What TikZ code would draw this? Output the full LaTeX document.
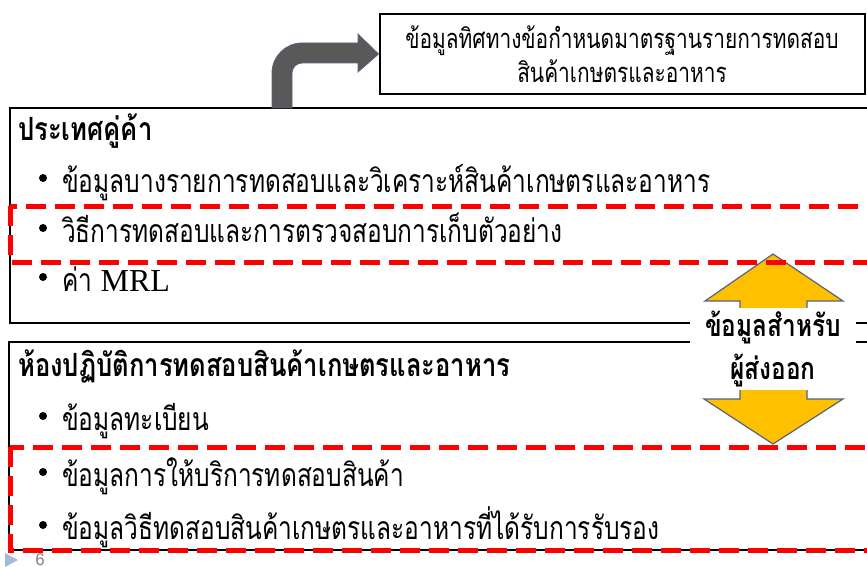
\documentclass[tikz,border=0pt]{standalone}
\usepackage{fontspec}
\newfontfamily\thaifont[Script=Thai,FakeStretch=0.765]{Loma}
\newfontfamily\thaihead[Script=Thai,FakeStretch=0.8]{Loma}
\newfontfamily\romanfont{Liberation Serif}
\setsansfont{Liberation Sans}
\usetikzlibrary{positioning}

\definecolor{arrowgray}{HTML}{595959}
\definecolor{edgeblue}{HTML}{56627E}
\definecolor{exportgold}{HTML}{FFC000}
\definecolor{markblue}{HTML}{A5BBD3}

\tikzset{
  panel/.style={draw=black,line width=2pt},
  redzone/.style={draw=red,line width=5pt,dash pattern=on 20pt off 9pt},
  bodytext/.style={anchor=base west,inner sep=0pt,font=\thaifont\fontsize{32}{34}\selectfont},
  headtext/.style={anchor=base west,inner sep=0pt,font=\thaihead\bfseries\fontsize{32}{34}\selectfont},
  bulletdot/.style={circle,fill=black,inner sep=0pt,minimum size=8pt},
}

\begin{document}
\begin{tikzpicture}[x=1pt,y=-1pt]
  \useasboundingbox (0,0) rectangle (867,567);
  \clip (0,0) rectangle (867,567);

  % the two panels
  \draw[panel] (10,108) rectangle (900,323);
  \draw[panel] (9,342) rectangle (900,550);

  % top box
  \node[draw,line width=2pt,minimum width=485pt,minimum height=80pt,inner sep=0pt,
        align=center,font=\thaifont\fontsize{27.3}{34}\selectfont] (guide) at (622,54)
        {ข้อมูลทิศทางข้อกำหนดมาตรฐานรายการทดสอบ\\สินค้าเกษตรและอาหาร};

  % bent arrow from partner panel up to the top box
  \coordinate (arrowfoot) at (282,108);
  \fill[arrowgray,draw=edgeblue,line width=0.8pt]
    (272,108) -- (272,73) arc (180:270:30) -- (358,43) -- (358,34) -- (guide.west)
    -- (358,72) -- (358,63) -- (302,63) arc (270:180:10) -- (292,108) -- cycle;

  % partner country panel
  \node[headtext] (partner) at (18,140) {ประเทศคู่ค้า};
  \node[bodytext] (p1) at (62,192) {ข้อมูลบางรายการทดสอบและวิเคราะห์สินค้าเกษตรและอาหาร};
  \node[bodytext] (p2) at (62,242) {วิธีการทดสอบและการตรวจสอบการเก็บตัวอย่าง};
  \node[bodytext] (p3) at (62,291) {ค่า {\romanfont MRL}};
  \foreach \yy [count=\i] in {178,228,277}
    \node[bulletdot] (pb\i) at (43,\yy) {};

  % laboratory panel
  \node[headtext] (lab) at (18,376) {ห้องปฏิบัติการทดสอบสินค้าเกษตรและอาหาร};
  \node[bodytext] (l1) at (62,430) {ข้อมูลทะเบียน};
  \node[bodytext] (l2) at (62,486) {ข้อมูลการให้บริการทดสอบสินค้า};
  \node[bodytext] (l3) at (62,539) {ข้อมูลวิธีทดสอบสินค้าเกษตรและอาหารที่ได้รับการรับรอง};
  \foreach \yy [count=\i] in {416,472,525}
    \node[bulletdot] (lb\i) at (43,\yy) {};

  % up-down arrow
  \fill[exportgold,draw=edgeblue,line width=1.2pt]
    (773,254) -- (843,301) -- (807,301) -- (807,399) -- (843,399) -- (773,444)
    -- (704,399) -- (740,399) -- (740,301) -- (705,301) -- cycle;

  % highlighted items
  \draw[redzone] (10,206) rectangle (900,262);
  \draw[redzone] (10,447) rectangle (900,550);

  \node[fill=white,minimum width=166pt,minimum height=82pt,inner sep=0pt,align=center,
        font=\thaihead\bfseries\fontsize{30.5}{43}\selectfont] (export) at (773,349)
        {ข้อมูลสำหรับ\\ผู้ส่งออก};

  % slide number
  \fill[markblue] (5,553) -- (18,560) -- (5,567) -- cycle;
  \node[text=gray,font=\sffamily\fontsize{17}{17}\selectfont,inner sep=0pt,anchor=north] (pagenum) at (40,553) {6};
\end{tikzpicture}
\end{document}
